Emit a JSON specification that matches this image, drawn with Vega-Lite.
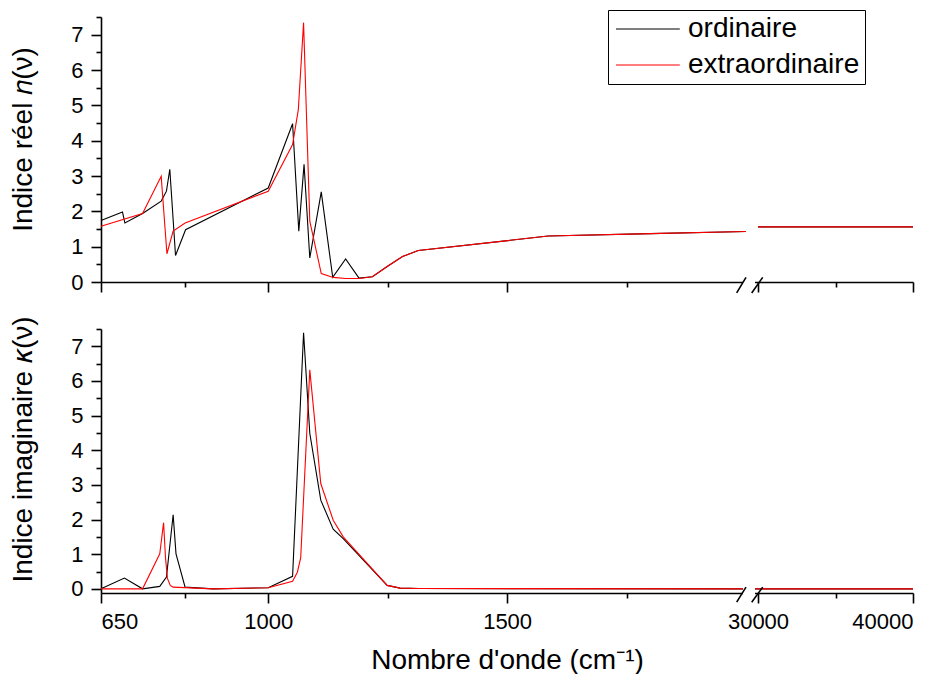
{
  "$schema": "https://vega.github.io/schema/vega-lite/v6.json",
  "padding": {"left": 9, "top": 9, "right": 0, "bottom": 0},
  "background": "white",
  "spacing": 21,
  "config": {
    "font": "Liberation Sans",
    "view": {"stroke": null},
    "axis": {
      "grid": false,
      "labelFont": "Liberation Sans",
      "titleFont": "Liberation Sans",
      "labelFontSize": 22,
      "titleFontSize": 28,
      "titleFontWeight": "normal",
      "labelColor": "black",
      "titleColor": "black",
      "domainColor": "black",
      "tickColor": "black",
      "domainWidth": 1.6,
      "tickWidth": 1.6
    },
    "legend": {"labelFont": "Liberation Sans"}
  },
  "resolve": {"scale": {"color": "independent"}, "legend": {"color": "independent"}},
  "datasets": {
    "n": [
      {"x": 650, "v": 1.74, "s": "ordinaire", "seg": 1},
      {"x": 695, "v": 1.98, "s": "ordinaire", "seg": 1},
      {"x": 700, "v": 1.67, "s": "ordinaire", "seg": 1},
      {"x": 737, "v": 1.94, "s": "ordinaire", "seg": 1},
      {"x": 776, "v": 2.29, "s": "ordinaire", "seg": 1},
      {"x": 787, "v": 2.57, "s": "ordinaire", "seg": 1},
      {"x": 794, "v": 3.19, "s": "ordinaire", "seg": 1},
      {"x": 806, "v": 0.75, "s": "ordinaire", "seg": 1},
      {"x": 827, "v": 1.48, "s": "ordinaire", "seg": 1},
      {"x": 1000, "v": 2.66, "s": "ordinaire", "seg": 1},
      {"x": 1051, "v": 4.48, "s": "ordinaire", "seg": 1},
      {"x": 1064, "v": 1.44, "s": "ordinaire", "seg": 1},
      {"x": 1075, "v": 3.33, "s": "ordinaire", "seg": 1},
      {"x": 1087, "v": 0.68, "s": "ordinaire", "seg": 1},
      {"x": 1111, "v": 2.55, "s": "ordinaire", "seg": 1},
      {"x": 1135, "v": 0.13, "s": "ordinaire", "seg": 1},
      {"x": 1162, "v": 0.65, "s": "ordinaire", "seg": 1},
      {"x": 1190, "v": 0.11, "s": "ordinaire", "seg": 1},
      {"x": 1218, "v": 0.15, "s": "ordinaire", "seg": 1},
      {"x": 1249, "v": 0.44, "s": "ordinaire", "seg": 1},
      {"x": 1281, "v": 0.72, "s": "ordinaire", "seg": 1},
      {"x": 1314, "v": 0.89, "s": "ordinaire", "seg": 1},
      {"x": 1586, "v": 1.30, "s": "ordinaire", "seg": 1},
      {"x": 1800, "v": 1.37, "s": "ordinaire", "seg": 1},
      {"x": 2000, "v": 1.43, "s": "ordinaire", "seg": 1},
      {"x": 30000, "v": 1.56, "s": "ordinaire", "seg": 2},
      {"x": 40000, "v": 1.56, "s": "ordinaire", "seg": 2},
      {"x": 650, "v": 1.58, "s": "extraordinaire", "seg": 1},
      {"x": 737, "v": 1.94, "s": "extraordinaire", "seg": 1},
      {"x": 776, "v": 2.99, "s": "extraordinaire", "seg": 1},
      {"x": 788, "v": 0.80, "s": "extraordinaire", "seg": 1},
      {"x": 801, "v": 1.44, "s": "extraordinaire", "seg": 1},
      {"x": 826, "v": 1.67, "s": "extraordinaire", "seg": 1},
      {"x": 1000, "v": 2.57, "s": "extraordinaire", "seg": 1},
      {"x": 1051, "v": 3.89, "s": "extraordinaire", "seg": 1},
      {"x": 1063, "v": 4.88, "s": "extraordinaire", "seg": 1},
      {"x": 1074, "v": 7.34, "s": "extraordinaire", "seg": 1},
      {"x": 1087, "v": 1.72, "s": "extraordinaire", "seg": 1},
      {"x": 1111, "v": 0.24, "s": "extraordinaire", "seg": 1},
      {"x": 1136, "v": 0.13, "s": "extraordinaire", "seg": 1},
      {"x": 1162, "v": 0.10, "s": "extraordinaire", "seg": 1},
      {"x": 1190, "v": 0.10, "s": "extraordinaire", "seg": 1},
      {"x": 1218, "v": 0.15, "s": "extraordinaire", "seg": 1},
      {"x": 1249, "v": 0.44, "s": "extraordinaire", "seg": 1},
      {"x": 1281, "v": 0.72, "s": "extraordinaire", "seg": 1},
      {"x": 1314, "v": 0.89, "s": "extraordinaire", "seg": 1},
      {"x": 1586, "v": 1.30, "s": "extraordinaire", "seg": 1},
      {"x": 1800, "v": 1.37, "s": "extraordinaire", "seg": 1},
      {"x": 2000, "v": 1.43, "s": "extraordinaire", "seg": 1},
      {"x": 30000, "v": 1.56, "s": "extraordinaire", "seg": 2},
      {"x": 40000, "v": 1.56, "s": "extraordinaire", "seg": 2}
    ],
    "k": [
      {"x": 650, "v": 0.0, "s": "ordinaire"},
      {"x": 699, "v": 0.31, "s": "ordinaire"},
      {"x": 737, "v": 0.0, "s": "ordinaire"},
      {"x": 773, "v": 0.07, "s": "ordinaire"},
      {"x": 787, "v": 0.34, "s": "ordinaire"},
      {"x": 801, "v": 2.14, "s": "ordinaire"},
      {"x": 807, "v": 1.01, "s": "ordinaire"},
      {"x": 826, "v": 0.05, "s": "ordinaire"},
      {"x": 885, "v": 0.0, "s": "ordinaire"},
      {"x": 1000, "v": 0.03, "s": "ordinaire"},
      {"x": 1051, "v": 0.36, "s": "ordinaire"},
      {"x": 1074, "v": 7.39, "s": "ordinaire"},
      {"x": 1087, "v": 4.49, "s": "ordinaire"},
      {"x": 1110, "v": 2.56, "s": "ordinaire"},
      {"x": 1136, "v": 1.72, "s": "ordinaire"},
      {"x": 1157, "v": 1.45, "s": "ordinaire"},
      {"x": 1249, "v": 0.10, "s": "ordinaire"},
      {"x": 1276, "v": 0.02, "s": "ordinaire"},
      {"x": 1315, "v": 0.01, "s": "ordinaire"},
      {"x": 2000, "v": 0.0, "s": "ordinaire"},
      {"x": 30000, "v": 0.0, "s": "ordinaire"},
      {"x": 40000, "v": 0.0, "s": "ordinaire"},
      {"x": 650, "v": 0.0, "s": "extraordinaire"},
      {"x": 737, "v": 0.0, "s": "extraordinaire"},
      {"x": 773, "v": 1.01, "s": "extraordinaire"},
      {"x": 781, "v": 1.91, "s": "extraordinaire"},
      {"x": 785, "v": 0.9, "s": "extraordinaire"},
      {"x": 789, "v": 0.3, "s": "extraordinaire"},
      {"x": 795, "v": 0.1, "s": "extraordinaire"},
      {"x": 801, "v": 0.05, "s": "extraordinaire"},
      {"x": 885, "v": 0.0, "s": "extraordinaire"},
      {"x": 1000, "v": 0.03, "s": "extraordinaire"},
      {"x": 1051, "v": 0.22, "s": "extraordinaire"},
      {"x": 1061, "v": 0.48, "s": "extraordinaire"},
      {"x": 1068, "v": 0.9, "s": "extraordinaire"},
      {"x": 1087, "v": 6.32, "s": "extraordinaire"},
      {"x": 1110, "v": 3.04, "s": "extraordinaire"},
      {"x": 1136, "v": 1.98, "s": "extraordinaire"},
      {"x": 1157, "v": 1.5, "s": "extraordinaire"},
      {"x": 1249, "v": 0.10, "s": "extraordinaire"},
      {"x": 1276, "v": 0.02, "s": "extraordinaire"},
      {"x": 1315, "v": 0.01, "s": "extraordinaire"},
      {"x": 2000, "v": 0.0, "s": "extraordinaire"},
      {"x": 30000, "v": 0.0, "s": "extraordinaire"},
      {"x": 40000, "v": 0.0, "s": "extraordinaire"}
    ]
  },
  "vconcat": [
    {
      "width": 812,
      "height": 265,
      "resolve": {"axis": {"x": "independent", "y": "independent"}},
      "layer": [
        {
          "data": {"name": "n"},
          "mark": {"type": "line", "strokeWidth": 1.1},
          "encoding": {
            "x": {"field": "x", "type": "quantitative",
              "scale": {"domain": [650, 2000, 30000, 40000], "range": [0, 645, 657, 812], "nice": false, "zero": false},
              "axis": {"orient": "bottom", "values": [650, 1000, 1500, 30000, 40000], "labels": false, "tickSize": 10, "title": null}},
            "y": {"field": "v", "type": "quantitative",
              "scale": {"domain": [0, 7.5], "nice": false, "zero": false},
              "axis": {"orient": "left", "values": [0, 1, 2, 3, 4, 5, 6, 7], "format": "d", "tickSize": 10, "labelPadding": 8, "title": "Indice réel 𝑛(ν)", "titlePadding": 33, "titleY": 122}},
            "color": {"field": "s", "type": "nominal",
              "scale": {"domain": ["ordinaire", "extraordinaire"], "range": ["#000000", "#ff0000"]},
              "legend": {"orient": "none", "legendX": 507, "legendY": -7, "title": null,
                "strokeColor": "black", "fillColor": "white", "padding": 5, "rowPadding": 8,
                "labelFontSize": 28, "labelColor": "black", "labelOffset": 47, "labelLimit": 400,
                "symbolType": "M-1,0H4.8", "symbolSize": 484, "symbolStrokeWidth": 1.2}},
            "detail": {"field": "seg", "type": "nominal"}
          }
        },
        {
          "data": {"values": [{"x1": 1993.7, "x2": 23000, "y1": -0.1, "y2": 0.1}]},
          "mark": {"type": "rect", "color": "white"},
          "encoding": {
            "x": {"field": "x1", "type": "quantitative", "scale": {"domain": [650, 2000, 30000, 40000], "range": [0, 645, 657, 812], "nice": false, "zero": false}, "axis": null},
            "x2": {"field": "x2"},
            "y": {"field": "y1", "type": "quantitative", "scale": {"domain": [0, 7.5], "nice": false, "zero": false}, "axis": null},
            "y2": {"field": "y2"}
          }
        },
        {
          "data": {"values": [{"x1": 1980.5, "x2": 2000, "y1": -0.31, "y2": 0.13}, {"x1": 15300, "x2": 30303, "y1": -0.31, "y2": 0.13}]},
          "mark": {"type": "rule", "color": "black", "strokeWidth": 1.6},
          "encoding": {
            "x": {"field": "x1", "type": "quantitative", "scale": {"domain": [650, 2000, 30000, 40000], "range": [0, 645, 657, 812], "nice": false, "zero": false},
              "axis": {"orient": "bottom", "values": [825, 1250, 1750, 35000], "labels": false, "domain": false, "tickSize": 5, "title": null}},
            "x2": {"field": "x2"},
            "y": {"field": "y1", "type": "quantitative", "scale": {"domain": [0, 7.5], "nice": false, "zero": false},
              "axis": {"orient": "left", "values": [0.5, 1.5, 2.5, 3.5, 4.5, 5.5, 6.5, 7.5], "labels": false, "domain": false, "tickSize": 5, "title": null}},
            "y2": {"field": "y2"}
          }
        }
      ]
    },
    {
      "width": 812,
      "height": 264,
      "resolve": {"axis": {"x": "independent", "y": "independent"}},
      "layer": [
        {
          "data": {"name": "k"},
          "mark": {"type": "line", "strokeWidth": 1.1},
          "encoding": {
            "x": {"field": "x", "type": "quantitative",
              "scale": {"domain": [650, 2000, 30000, 40000], "range": [0, 645, 657, 812], "nice": false, "zero": false},
              "axis": {"orient": "bottom", "values": [650, 1000, 1500, 30000, 40000], "format": "d", "tickSize": 10, "labelPadding": 8, "title": "Nombre d'onde (cm⁻¹)", "titlePadding": 14}},
            "y": {"field": "v", "type": "quantitative",
              "scale": {"domain": [-0.12, 7.5], "nice": false, "zero": false},
              "axis": {"orient": "left", "values": [0, 1, 2, 3, 4, 5, 6, 7], "format": "d", "tickSize": 10, "labelPadding": 8, "title": "Indice imaginaire 𝜅(ν)", "titlePadding": 33, "titleY": 120}},
            "color": {"field": "s", "type": "nominal",
              "scale": {"domain": ["ordinaire", "extraordinaire"], "range": ["#000000", "#ff0000"]},
              "legend": null}
          }
        },
        {
          "data": {"values": [{"x1": 1993.7, "x2": 23000, "y1": -0.22, "y2": 0.06}]},
          "mark": {"type": "rect", "color": "white"},
          "encoding": {
            "x": {"field": "x1", "type": "quantitative", "scale": {"domain": [650, 2000, 30000, 40000], "range": [0, 645, 657, 812], "nice": false, "zero": false}, "axis": null},
            "x2": {"field": "x2"},
            "y": {"field": "y1", "type": "quantitative", "scale": {"domain": [-0.12, 7.5], "nice": false, "zero": false}, "axis": null},
            "y2": {"field": "y2"}
          }
        },
        {
          "data": {"values": [{"x1": 1980.5, "x2": 2000, "y1": -0.385, "y2": 0.05}, {"x1": 15300, "x2": 30303, "y1": -0.385, "y2": 0.05}]},
          "mark": {"type": "rule", "color": "black", "strokeWidth": 1.6},
          "encoding": {
            "x": {"field": "x1", "type": "quantitative", "scale": {"domain": [650, 2000, 30000, 40000], "range": [0, 645, 657, 812], "nice": false, "zero": false},
              "axis": {"orient": "bottom", "values": [825, 1250, 1750, 35000], "labels": false, "domain": false, "tickSize": 5, "title": null}},
            "x2": {"field": "x2"},
            "y": {"field": "y1", "type": "quantitative", "scale": {"domain": [-0.12, 7.5], "nice": false, "zero": false},
              "axis": {"orient": "left", "values": [0.5, 1.5, 2.5, 3.5, 4.5, 5.5, 6.5, 7.5], "labels": false, "domain": false, "tickSize": 5, "title": null}},
            "y2": {"field": "y2"}
          }
        }
      ]
    }
  ]
}
